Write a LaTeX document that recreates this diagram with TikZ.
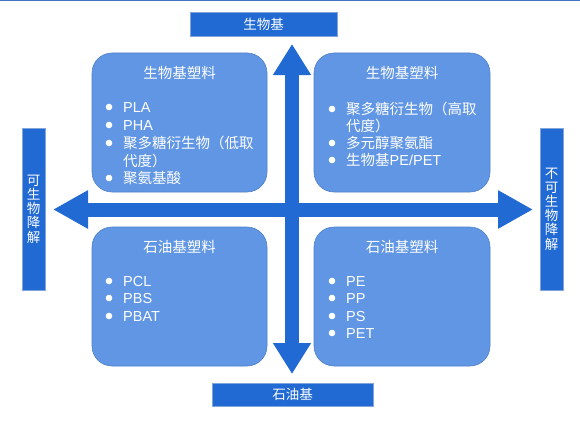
\documentclass[tikz,border=0pt]{standalone}
\usepackage{fontspec}
\setmainfont{Liberation Sans}
\newfontfamily\cjk{Noto Sans CJK SC}
\usetikzlibrary{arrows.meta}
\definecolor{darkblue}{RGB}{33,106,212}
\definecolor{lightblue}{RGB}{96,150,228}
\definecolor{edgeblue}{RGB}{80,128,200}
\definecolor{labeledge}{RGB}{130,165,220}
\definecolor{topline}{RGB}{68,114,196}
\begin{document}
\begin{tikzpicture}[x=1pt,y=-1pt,
  labelbox/.style={fill=darkblue, draw=labeledge, line width=0.6pt, inner sep=0pt, text=white, font=\cjk\fontsize{13.5}{14.2}\selectfont},
  quad/.style={fill=lightblue, draw=edgeblue, line width=0.6pt, rounded corners=20pt},
  qtitle/.style={text=white, inner sep=0pt, font=\cjk\fontsize{14.5}{16}\selectfont},
  item/.style={text=white, inner sep=0pt, anchor=base west, font=\fontsize{14.5}{16}\selectfont},
  bigarrow/.style={draw=darkblue, line width=14pt},
  vhead/.style={Triangle[width=36pt,length=31pt]},
  hhead/.style={Triangle[width=36pt,length=35pt]}
]
\useasboundingbox (0,0) rectangle (580,420);
\fill[topline] (0,0) rectangle (580,1.5);

% axes
\coordinate (tipT) at (292,44);
\coordinate (tipB) at (292,374);
\coordinate (tipL) at (53,209.5);
\coordinate (tipR) at (533,209.5);
\draw[bigarrow, {Triangle[width=36pt,length=31pt]}-{Triangle[width=36pt,length=31pt]}] (tipB) -- (tipT);
\draw[bigarrow, {Triangle[width=36pt,length=35pt]}-{Triangle[width=36pt,length=35pt]}] (tipL) -- (tipR);

% axis labels
\node[labelbox, minimum width=147pt, minimum height=24pt] (lblT) at (263.5,24) {生物基};
\node[labelbox, minimum width=161pt, minimum height=23pt] (lblB) at (292.5,394.5) {石油基};
\node[labelbox, minimum width=23pt, minimum height=162pt, align=center] (lblL) at (33.5,209) {可\\生\\物\\降\\解};
\node[labelbox, minimum width=23pt, minimum height=162pt, align=center] (lblR) at (551.5,209) {不\\可\\生\\物\\降\\解};

% quadrants
\draw[quad] (92,53) rectangle (267,192);
\draw[quad] (314,53) rectangle (490,192);
\draw[quad] (92,227) rectangle (267,366);
\draw[quad] (314,227) rectangle (490,366);

% top-left
\node[qtitle] (tlT) at (179.5,73) {生物基塑料};
\foreach \y in {107,125,143,178} \fill[white] (109,\y) circle (3.3);
\node[item] (tl1) at (123,112) {PLA};
\node[item] (tl2) at (123,130) {PHA};
\node[item] (tl3) at (123,148) {\cjk 聚多糖衍生物（低取};
\node[item] (tl4) at (123,166) {\cjk 代度）};
\node[item] (tl5) at (123,183) {\cjk 聚氨基酸};

% top-right
\node[qtitle] (trT) at (402,73) {生物基塑料};
\foreach \y in {109,143,160} \fill[white] (332,\y) circle (3.3);
\node[item] (tr1) at (346,114) {\cjk 聚多糖衍生物（高取};
\node[item] (tr2) at (346,131) {\cjk 代度）};
\node[item] (tr3) at (346,148) {\cjk 多元醇聚氨酯};
\node[item] (tr4) at (346,165) {{\cjk 生物基}PE/PET};

% bottom-left
\node[qtitle] (blT) at (179.5,247) {石油基塑料};
\foreach \y in {281,298,316} \fill[white] (109,\y) circle (3.3);
\node[item] (bl1) at (123,286) {PCL};
\node[item] (bl2) at (123,303) {PBS};
\node[item] (bl3) at (123,321) {PBAT};

% bottom-right
\node[qtitle] (brT) at (402,247) {石油基塑料};
\foreach \y in {281,298,316,333} \fill[white] (332,\y) circle (3.3);
\node[item] (br1) at (346,286) {PE};
\node[item] (br2) at (346,303) {PP};
\node[item] (br3) at (346,321) {PS};
\node[item] (br4) at (346,338) {PET};
\end{tikzpicture}
\end{document}
